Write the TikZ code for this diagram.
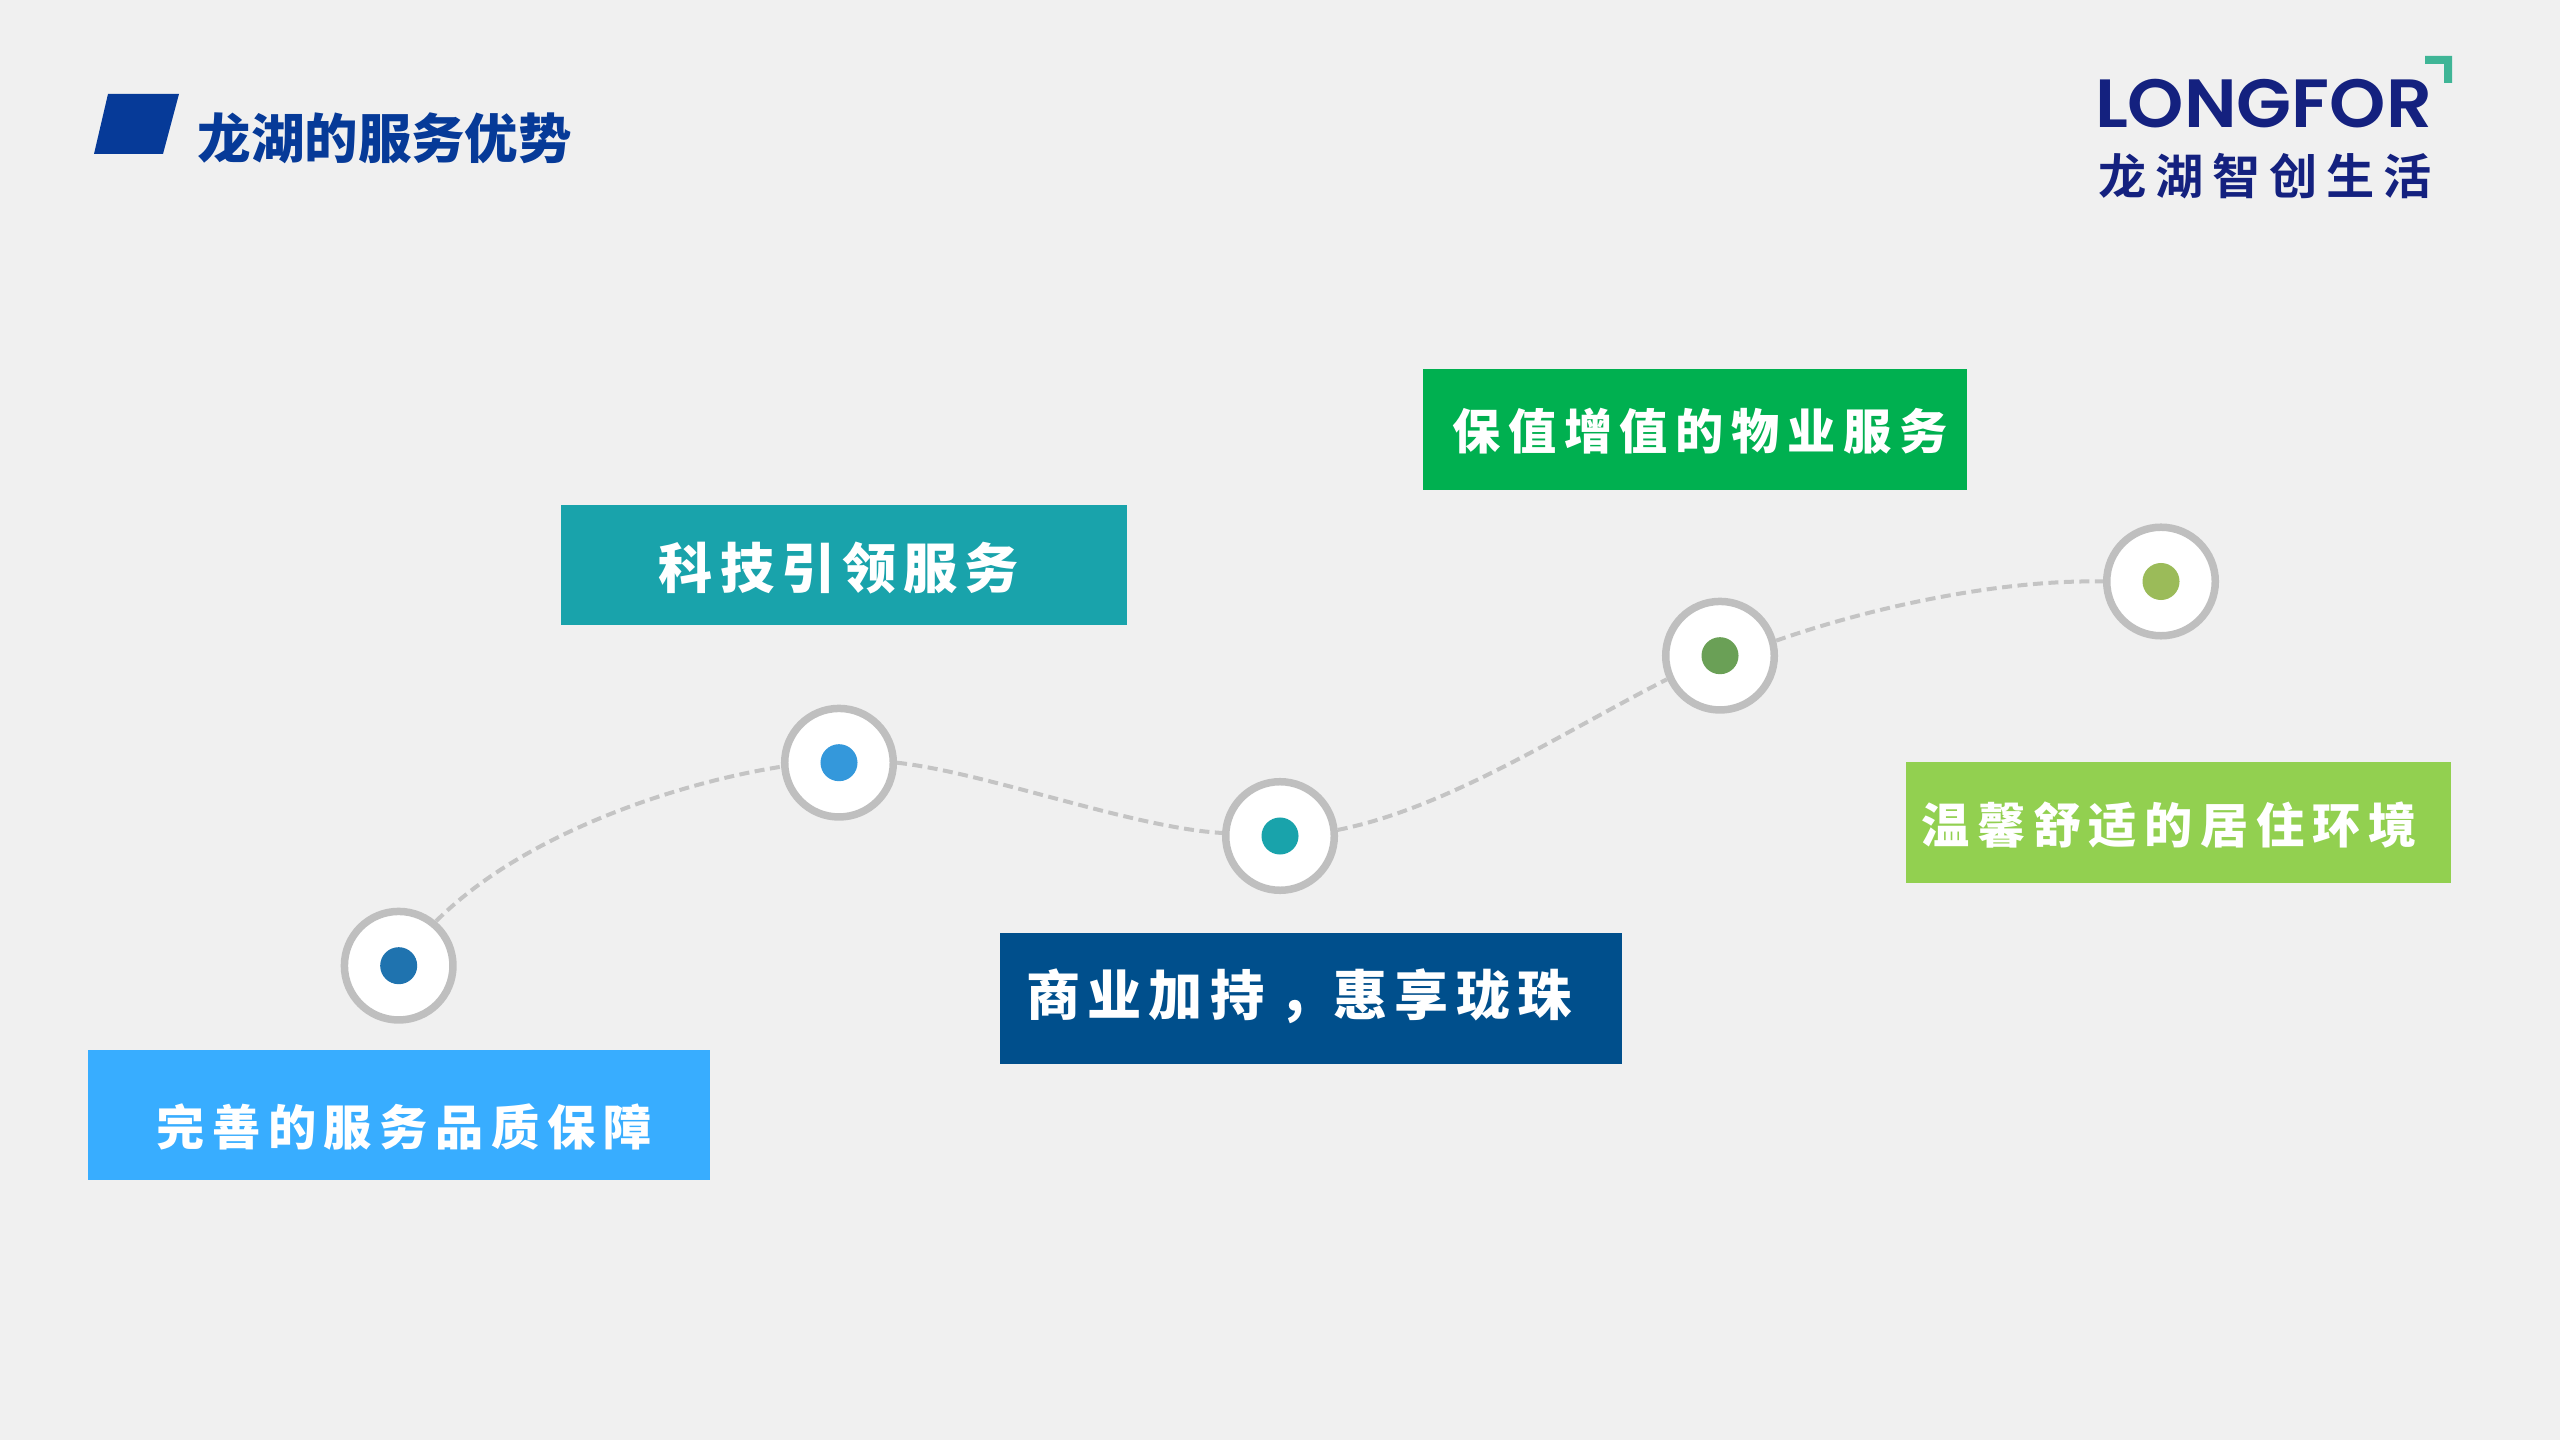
\documentclass[tikz,border=0pt]{standalone}
\usepackage{fontspec}
\setmainfont{Noto Sans CJK SC}[BoldFont={Noto Sans CJK SC Bold}]
\newfontfamily\logofont[FakeStretch=1.05]{Poppins SemiBold}
\newfontfamily\cjksmall[LetterSpace=16]{Noto Sans CJK SC Black}
\newfontfamily\cjkbig[LetterSpace=13]{Noto Sans CJK SC Black}
\newfontfamily\cjkmid[LetterSpace=18]{Noto Sans CJK SC Bold}
\newfontfamily\cjkheavy{Noto Sans CJK SC Black}
\newcommand{\cellcomma}{\hbox to 1.28em{\hss\raisebox{0.07em}{,}\hss\kern0.13em}}
\definecolor{bg}{HTML}{F0F0F0}
\definecolor{ring}{HTML}{BFBFBF}
\definecolor{trailgrey}{HTML}{C4C4C4}
\definecolor{navy}{HTML}{063A98}
\definecolor{logoblue}{HTML}{14217F}
\definecolor{logoteal}{HTML}{3FB596}
\begin{document}
\begin{tikzpicture}[x=0.01cm,y=-0.01cm,
  boxnode/.style={rectangle,inner sep=0pt,outer sep=0pt,draw=none},
  label big/.style={text=white,inner sep=0pt,font=\cjkbig\fontsize{15.4pt}{18pt}\selectfont},
  label small/.style={text=white,inner sep=0pt,font=\cjksmall\fontsize{13.7pt}{16pt}\selectfont},
  ringnode/.style={circle,draw=ring,line width=0.075cm,fill=white,minimum size=1.085cm,inner sep=0pt,outer sep=0.0375cm},
  dotnode/.style={circle,minimum size=0.37cm,inner sep=0pt,outer sep=0pt},
  trail/.style={draw=trailgrey,line width=0.04cm,dash pattern=on 0.10cm off 0.055cm}]
\useasboundingbox (0,0) rectangle (2560,1440);
\fill[bg] (0,0) rectangle (2560,1440);
% heading
\fill[navy] (108,94) -- (179,94) -- (163,154) -- (94,154) -- cycle;
\node[anchor=west,inner sep=0pt,text=navy,font=\cjkheavy\fontsize{15.2pt}{18pt}\selectfont] (title) at (197,138) {龙湖的服务优势};
% logo
\fill[logoteal] (2425,56) -- (2452,56) -- (2452,83) -- (2444,83) -- (2444,64) -- (2425,64) -- cycle;
\node[inner sep=0pt,text=logoblue,font=\logofont\fontsize{19.4pt}{22pt}\selectfont] (logoA) at (2263.5,104) {LONGFOR};
\node[inner sep=0pt,text=logoblue,font=\cjkmid\fontsize{13.7pt}{16pt}\selectfont] (logoB) at (2265,176) {龙湖智创生活};
% boxes
\node[boxnode,fill={rgb,255:red,56;green,173;blue,255},minimum width=6.22cm,minimum height=1.30cm] (b1) at (399,1115) {};
\node[boxnode,fill={rgb,255:red,25;green,163;blue,171},minimum width=5.655cm,minimum height=1.20cm] (b2) at (843.75,565) {};
\node[boxnode,fill={rgb,255:red,0;green,79;blue,140},minimum width=6.22cm,minimum height=1.31cm] (b3) at (1311,998.5) {};
\node[boxnode,fill={rgb,255:red,0;green,176;blue,80},minimum width=5.44cm,minimum height=1.21cm] (b4) at (1695,429.5) {};
\node[boxnode,fill={rgb,255:red,146;green,208;blue,80},minimum width=5.45cm,minimum height=1.21cm] (b5) at (2178.5,822.5) {};
\node[label small] (t1) at (404,1127) {完善的服务品质保障};
\node[label big] (t2) at (839,568) {科技引领服务};
\node[label big] (t3) at (1299,996) {商业加持\cellcomma 惠享珑珠};
\node[label small] (t4) at (1700,431) {保值增值的物业服务};
\node[label small] (t5) at (2169,825) {温馨舒适的居住环境};
% rings
\node[ringnode] (c1) at (398.7,965.7) {};
\node[ringnode] (c2) at (839,762.7) {};
\node[ringnode] (c3) at (1280,836) {};
\node[ringnode] (c4) at (1720,655.7) {};
\node[ringnode] (c5) at (2161,581.5) {};
\node[dotnode,fill={rgb,255:red,31;green,115;blue,175}] (d1) at (c1) {};
\node[dotnode,fill={rgb,255:red,52;green,152;blue,219}] (d2) at (c2) {};
\node[dotnode,fill={rgb,255:red,25;green,163;blue,171}] (d3) at (c3) {};
\node[dotnode,fill={rgb,255:red,106;green,160;blue,86}] (d4) at (c4) {};
\node[dotnode,fill={rgb,255:red,155;green,187;blue,89}] (d5) at (c5) {};
% connectors
\draw[trail] (c1.50) .. controls +(91,-91) and +(-96,15) .. (c2.184);
\draw[trail] (c2.0) .. controls +(90,10) and +(-89,-5) .. (c3.177);
\draw[trail] (c3.6) .. controls +(110,-22) and +(-106,54) .. (c4.204);
\draw[trail] (c4.15) .. controls +(100,-35) and +(-100,-2) .. (c5.180);
\end{tikzpicture}
\end{document}
